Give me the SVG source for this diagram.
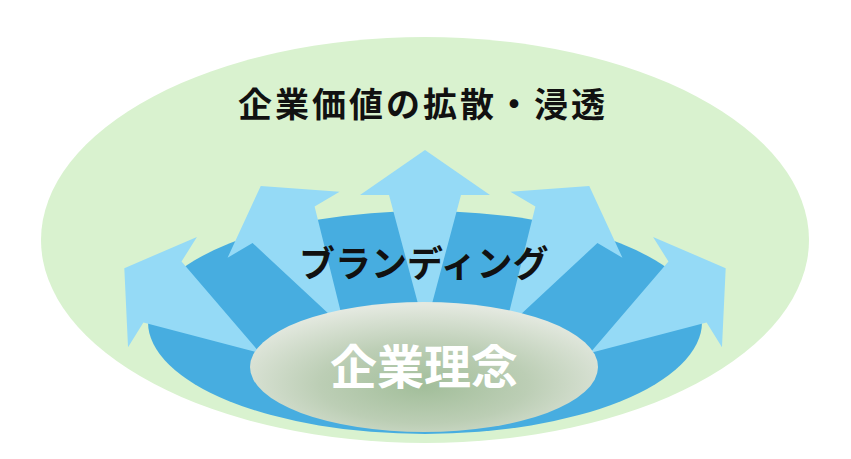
<svg xmlns="http://www.w3.org/2000/svg" width="851" height="459" viewBox="0 0 851 459">
<defs>
<style>
.arrow{fill:#95daf6;}
.jp{font-family:"Noto Sans CJK JP","Noto Sans CJK SC",sans-serif;font-weight:700;}
</style>
<radialGradient id="core" cx="0.5" cy="0.62" r="0.6" fx="0.5" fy="0.65">
<stop offset="0" stop-color="#a2be9a"/>
<stop offset="0.5" stop-color="#bcceb5"/>
<stop offset="1" stop-color="#e4e9e0"/>
</radialGradient>
<polygon id="a115" class="arrow" points="0,0 -36,-115 -65,-115 0,-160 65,-115 36,-115"/>
<polygon id="a121" class="arrow" points="0,0 -36,-121 -65,-121 0,-166 65,-121 36,-121"/>
<polygon id="a135" class="arrow" points="0,0 -36,-135 -65,-135 0,-180 65,-135 36,-135"/>
</defs>
<rect width="851" height="459" fill="#ffffff"/>
<g id="outer">
<ellipse cx="425" cy="240" rx="384" ry="203" fill="#d9f2cf"/>
<text class="jp" x="238" y="117" font-size="34" letter-spacing="3" fill="#111111">企業価値の拡散・浸透</text>
</g>
<g id="branding">
<path d="M148,322 A277,111 0 0 1 702,322 A277,112 0 0 1 148,322 Z" fill="#47ade0"/>
<g id="arrows">
<use href="#a115" transform="translate(260,353) rotate(-58)"/>
<use href="#a121" transform="translate(345,329) rotate(-30.5)"/>
<use href="#a135" transform="translate(425,330)"/>
<use href="#a121" transform="translate(505,329) rotate(30.5)"/>
<use href="#a115" transform="translate(590,353) rotate(58)"/>
</g>
<text class="jp" x="299" y="277" font-size="36" fill="#111111">ブランディング</text>
</g>
<g id="core-node">
<ellipse cx="424" cy="367" rx="174" ry="65" fill="url(#core)"/>
<text class="jp" x="424" y="384" font-size="47" text-anchor="middle" fill="#ffffff">企業理念</text>
</g>
</svg>
